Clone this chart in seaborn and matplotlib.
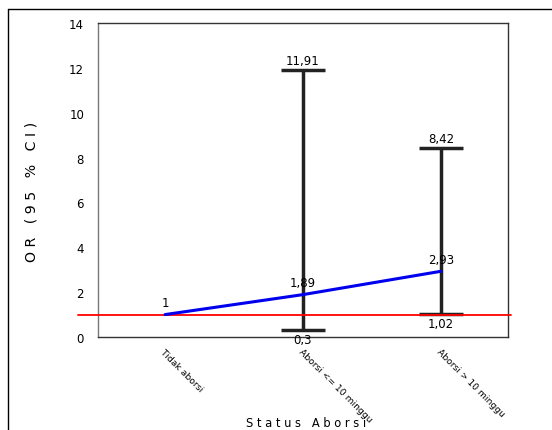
import matplotlib
matplotlib.use("Agg")
import matplotlib.pyplot as plt
import seaborn as sns
import pandas as pd
from matplotlib.lines import Line2D

categories = ["Tidak aborsi", "Aborsi <= 10 minggu", "Aborsi > 10 minggu"]
or_values = [1.0, 1.89, 2.93]
ci_lower = [None, 0.3, 1.02]
ci_upper = [None, 11.91, 8.42]
or_labels = ["1", "1,89", "2,93"]
lower_labels = [None, "0,3", "1,02"]
upper_labels = [None, "11,91", "8,42"]
y_ticks = [0, 2, 4, 6, 8, 10, 12, 14]

sns.set_style("white")
plt.rcParams["font.family"] = ["DejaVu Sans"]
plt.rcParams["text.color"] = "black"
plt.rcParams["xtick.color"] = "black"
plt.rcParams["ytick.color"] = "black"
plt.rcParams["axes.labelcolor"] = "black"

fig = plt.figure(figsize=(5.52, 4.31), dpi=100)
ax = fig.add_axes([98/552, 93/431, 410/552, 314/431])

pos = list(range(len(categories)))
df = pd.DataFrame({"pos": pos, "OR": or_values})

# error bars
for i in pos:
    if ci_lower[i] is None:
        continue
    ax.errorbar(i, or_values[i], yerr=[[or_values[i]-ci_lower[i]], [ci_upper[i]-or_values[i]]],
                fmt="none", ecolor="#222222", elinewidth=2.5, capsize=15.5, capthick=2.5, zorder=2)

sns.lineplot(data=df, x="pos", y="OR", ax=ax, color="#0000ee", linewidth=2.2, zorder=4)

# reference line at OR = 1
ax.plot([-0.63, 2.51], [1, 1], color="#ff0000", linewidth=1.3, clip_on=False, zorder=3)

for i in pos:
    ax.text(i, or_values[i] + 0.25, or_labels[i], ha="center", va="bottom", fontsize=8.5)
    if upper_labels[i]:
        ax.text(i, ci_upper[i] + 0.12, upper_labels[i], ha="center", va="bottom", fontsize=8.5)
    if lower_labels[i]:
        ax.text(i, ci_lower[i] - 0.12, lower_labels[i], ha="center", va="top", fontsize=8.5)

ax.set_xlim(-0.486, 2.486)
ax.set_ylim(0, 14)
ax.set_yticks(y_ticks)
ax.set_yticklabels([str(t) for t in y_ticks], fontsize=8.5)
ax.set_xticks(pos)
ax.set_xticklabels(categories, rotation=-45, ha="left", va="top", rotation_mode="anchor", fontsize=6.6)
ax.tick_params(axis="y", length=0, pad=10)
ax.tick_params(axis="x", length=0, pad=7)

for s in ax.spines.values():
    s.set_color("#333333")
    s.set_linewidth(1.0)
ax.spines["left"].set_color("#777777")

ax.set_xlabel("")
fig.text(306/552, (431-424)/431, "S t a t u s   A b o r s i", ha="center", va="center", fontsize=8.3)
ax.set_ylabel("O R   ( 9 5   %   C I )", fontsize=10.2)
ax.yaxis.set_label_coords(-0.145, (338-192)/314)

# outer frame
fig.add_artist(Line2D([8/552, 8/552], [0, 1 - 10/431], transform=fig.transFigure, color="black", linewidth=1))
fig.add_artist(Line2D([8/552, 1], [1 - 10/431, 1 - 10/431], transform=fig.transFigure, color="black", linewidth=1))

fig.savefig("out.png", dpi=100)
